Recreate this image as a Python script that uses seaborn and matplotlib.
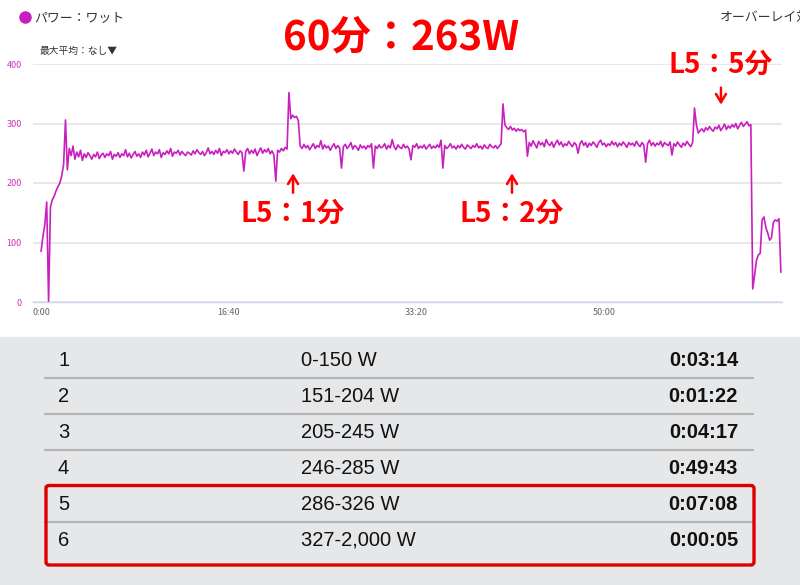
"""
Power (watts) trace of a 60 min ride with the L5 efforts marked,
plus the power-zone time table underneath.
"""

import pandas as pd
import seaborn as sns
import matplotlib
matplotlib.use('Agg')
import matplotlib.pyplot as plt
from matplotlib.lines import Line2D
from matplotlib.patches import FancyBboxPatch, Rectangle

# one sample every 10 seconds
SAMPLE_SEC = 10

warmup = [85, 110, 130, 168, 0, 160, 172, 178, 187, 194, 200, 212, 231, 306, 222]
block1 = [258, 246, 262, 240, 252, 244, 255, 238, 249, 243, 251, 246, 240,
          248, 244, 252, 241, 247, 250, 243, 249, 246, 253, 240, 248, 245,
          251, 243, 249, 246, 256, 244, 250, 242, 248, 253, 245, 249, 243,
          252, 247, 255, 244, 250, 257, 246, 252, 249, 256, 243, 251, 248,
          254, 249, 258, 245, 252, 250, 255, 247, 253, 249, 246, 252, 250,
          247, 254, 249, 256, 251, 248, 253, 246, 251, 259, 249, 253, 248,
          255, 250, 258, 246, 253, 251, 256, 249, 254, 250, 257, 252, 248,
          254, 251, 220, 253, 258, 249, 255, 250, 257, 246, 253, 259, 250,
          256, 252, 258, 249, 254, 247, 203, 255, 252, 258, 254, 260, 257]
l5_1min = [352, 308, 314, 310, 312, 305]
block2 = [262, 258, 265, 259, 263, 256, 261, 266, 258, 263, 260, 271,
          257, 264, 259, 262, 255, 261, 266, 258, 263, 259, 225, 261,
          265, 258, 262, 268, 257, 263, 260, 255, 264, 259, 262, 257,
          263, 260, 266, 225, 262, 258, 264, 259, 261, 266, 257, 263,
          259, 273, 261, 256, 264, 260, 258, 265, 259, 262, 257, 239,
          263, 260, 266, 258, 262, 259, 264, 257, 261, 265, 258, 262,
          259, 264, 260, 272, 225, 263, 258, 261, 266, 259, 262, 257,
          263, 259, 265, 260, 257, 264, 261, 258, 263, 260, 266, 259,
          262, 257, 264, 260, 258, 265, 261, 259, 263, 258, 262, 266]
l5_2min = [333, 298, 293, 290, 295, 289, 292, 287, 291, 288, 290, 286, 289]
block3 = [245,
          268, 262, 271, 265, 259, 270, 264, 268, 261, 273, 266,
          263, 269, 260, 267, 272, 264, 269, 261, 266, 263, 270,
          265, 261, 268, 264, 250, 266, 271, 263, 268, 260, 267,
          263, 269, 265, 260, 268, 272, 264, 267, 261, 266, 263,
          270, 264, 268, 261, 267, 263, 269, 265, 260, 268, 264,
          267, 262, 270, 265, 261, 268, 264, 235, 266, 272, 263,
          268, 262, 267, 264, 270, 261, 268, 265, 263, 269, 247,
          266, 262, 269, 264, 260, 267, 263, 270, 265, 261, 268]
l5_5min = [326, 298, 284, 288, 291, 286, 293, 289, 295, 290, 287, 294, 291,
           297, 288, 293, 299, 290, 296, 292, 298, 294, 300, 291, 297, 302,
           295, 299, 303, 296, 298]
cooldown = [22, 45, 70, 79, 82, 138, 143, 125, 116, 104, 108, 134, 138, 136, 140, 50]

power = warmup + block1 + l5_1min + block2 + l5_2min + block3 + l5_5min + cooldown
seconds = [i * SAMPLE_SEC for i in range(len(power))]

x_ticks = [0, 1000, 2000, 3000]
x_labels = ['0:00', '16:40', '33:20', '50:00']
y_ticks = [0, 100, 200, 300, 400]

l5_labels = ['L5：1分', 'L5：2分', 'L5：5分']
l5_at = [1342, 2508, 3621]

zone_ids = ['1', '2', '3', '4', '5', '6']
zone_ranges = ['0-150 W', '151-204 W', '205-245 W', '246-285 W', '286-326 W', '327-2,000 W']
zone_times = ['0:03:14', '0:01:22', '0:04:17', '0:49:43', '0:07:08', '0:00:05']

LINE = '#c81fbe'
RED = '#ff0000'
W, H = 800, 585


def main():
    sns.set_theme(style='white')
    plt.rcParams['font.family'] = ['Noto Sans CJK JP', 'DejaVu Sans']

    fig = plt.figure(figsize=(8, 5.85), dpi=100)
    fig.patch.set_facecolor('white')
    # grey panel behind the zone table (below the axes)
    fig.patches.append(Rectangle((0, 0), 1, (H - 337) / H, transform=fig.transFigure,
                                 color='#e6e7e9', zorder=-1))

    # ---- power chart ----
    ax = fig.add_axes([33 / W, 1 - 302 / H, (782 - 33) / W, (302 - 64) / H])
    ax.set_facecolor('none')
    df = pd.DataFrame({'t': seconds, 'watt': power})
    sns.lineplot(data=df, x='t', y='watt', ax=ax, color=LINE, linewidth=1.2)
    ax.set_xlim(-43, 3946)
    ax.set_ylim(0, 400)
    ax.set_xlabel('')
    ax.set_ylabel('')
    ax.set_yticks(y_ticks)
    ax.set_yticklabels([str(v) for v in y_ticks], color='#cc33bb', fontsize=6.5)
    ax.set_xticks(x_ticks)
    ax.set_xticklabels(x_labels, color='#666666', fontsize=6.5)
    ax.tick_params(axis='y', length=0, pad=8)
    ax.tick_params(axis='x', length=0, pad=4)
    ax.yaxis.grid(True, color='#e6e6e6', linewidth=1.3)
    ax.set_axisbelow(True)
    for side in ['top', 'right', 'left']:
        ax.spines[side].set_visible(False)
    ax.spines['bottom'].set_color('#ccd6eb')
    ax.spines['bottom'].set_linewidth(1.0)

    # L5 effort markers
    for label, t in zip(l5_labels[:2], l5_at[:2]):
        ax.annotate('', xy=(t, 221), xytext=(t, 179),
                    arrowprops=dict(arrowstyle='->,head_length=0.5,head_width=0.3',
                                    color=RED, lw=1.8))
        ax.text(t, 148, label, color=RED, fontsize=20, fontweight='bold',
                ha='center', va='center')
    ax.annotate('', xy=(l5_at[2], 327), xytext=(l5_at[2], 365),
                arrowprops=dict(arrowstyle='->,head_length=0.5,head_width=0.3',
                                color=RED, lw=1.8))
    ax.text(l5_at[2], 399, l5_labels[2], color=RED, fontsize=20, fontweight='bold',
            ha='center', va='center')

    # header texts
    fig.add_artist(Line2D([25 / W], [1 - 17 / H], marker='o', markersize=8,
                          color='#c61fbd', transform=fig.transFigure))
    fig.text(34 / W, 1 - 18 / H, 'パワー：ワット', fontsize=9.3, color='#333333', va='center')
    fig.text(40 / W, 1 - 51 / H, '最大平均：なし▼', fontsize=7, color='#333333', va='center')
    fig.text(720 / W, 1 - 17 / H, 'オーバーレイ対象', fontsize=9.3, color='#333333', va='center')
    fig.text(401 / W, 1 - 38 / H, '60分：263W', fontsize=29, fontweight='bold',
             color=RED, ha='center', va='center')

    # ---- zone table ----
    tax = fig.add_axes([0, 0, 1, (H - 337) / H])
    tax.set_xlim(0, W)
    tax.set_ylim(H, 337)
    tax.axis('off')
    tfont = ['Liberation Sans', 'DejaVu Sans']
    for i, (zid, rng, tm) in enumerate(zip(zone_ids, zone_ranges, zone_times)):
        yc = 360.5 + 36 * i
        tax.text(58, yc, zid, fontsize=14.5, family=tfont, color='#111111', va='center')
        tax.text(301, yc, rng, fontsize=14.5, family=tfont, color='#111111', va='center')
        tax.text(738, yc, tm, fontsize=14.5, family=tfont, fontweight='bold',
                 color='#111111', va='center', ha='right')
        if i < len(zone_ids) - 1:
            tax.plot([45, 753], [yc + 17, yc + 17], color='#b5b5b5', lw=1.6)
    tax.add_patch(FancyBboxPatch((46, 485.5), 708, 79.5,
                                 boxstyle='round,pad=0,rounding_size=3',
                                 fill=False, edgecolor='#dd0000', lw=2.4, zorder=5))

    fig.savefig('out.png', dpi=100)


if __name__ == '__main__':
    main()
